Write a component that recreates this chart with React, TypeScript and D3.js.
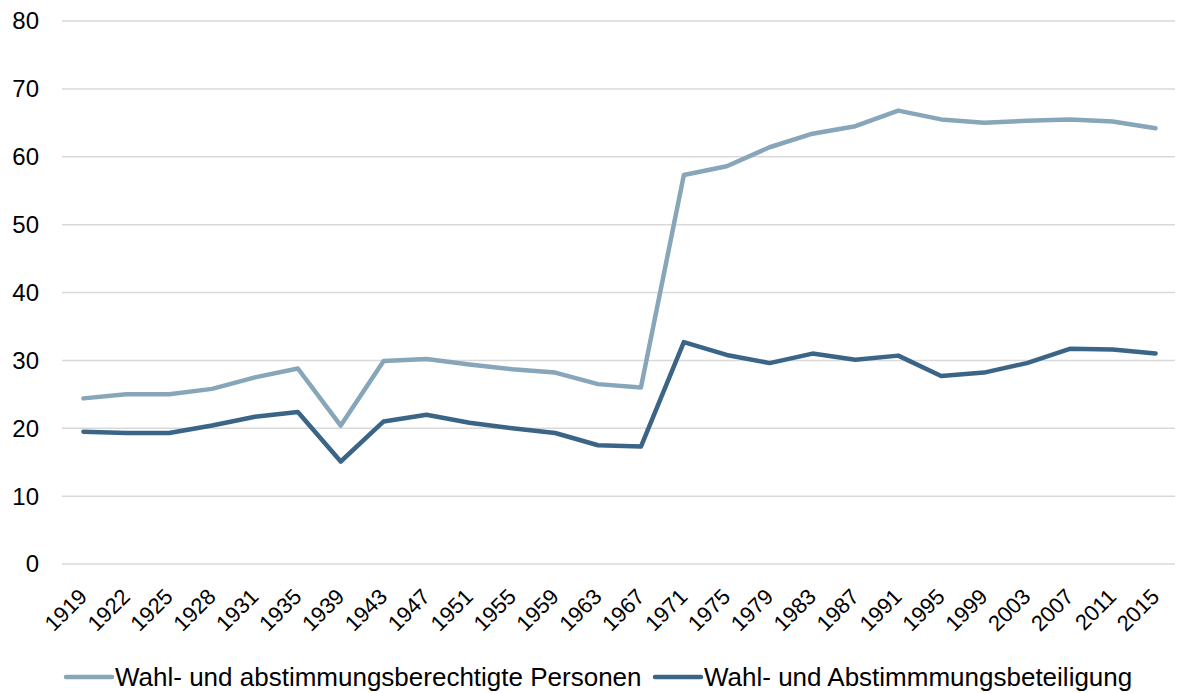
import { useEffect, useRef } from "react"
import * as d3 from "d3"

const years = [
  "1919", "1922", "1925", "1928", "1931", "1935", "1939", "1943", "1947", "1951", "1955", "1959", "1963",
  "1967", "1971", "1975", "1979", "1983", "1987", "1991", "1995", "1999", "2003", "2007", "2011", "2015",
]
const berechtigte = [
  24.4, 25.0, 25.0, 25.8, 27.5, 28.8, 20.4, 29.9, 30.2, 29.4, 28.7, 28.2, 26.5,
  26.0, 57.3, 58.6, 61.4, 63.4, 64.5, 66.8, 65.5, 65.0, 65.3, 65.5, 65.2, 64.2,
]
const beteiligung = [
  19.5, 19.3, 19.3, 20.4, 21.7, 22.4, 15.1, 21.0, 22.0, 20.8, 20.0, 19.3, 17.5,
  17.3, 32.7, 30.8, 29.6, 31.0, 30.1, 30.7, 27.7, 28.2, 29.6, 31.7, 31.6, 31.0,
]
const yTicks = [0, 10, 20, 30, 40, 50, 60, 70, 80]
const seriesNames = ["Wahl- und abstimmungsberechtigte Personen", "Wahl- und Abstimmmungsbeteiligung"]
const colors = ["#87a6ba", "#3a6587"]

const W = 1179
const H = 693

const App = () => {
  const svgRef = useRef<SVGSVGElement>(null)

  useEffect(() => {
    const svg = d3.select(svgRef.current)
    svg.selectAll("*").remove()

    const font = "'Liberation Sans', Arial, sans-serif"
    const left = 62
    const right = 1177
    const top = 21
    const bottom = 564

    const x = d3.scaleBand().domain(years).range([left, right])
    const y = d3.scaleLinear().domain([0, 80]).range([bottom, top])
    const cx = (d: string) => (x(d) ?? 0) + x.bandwidth() / 2

    // gridlines
    svg
      .append("g")
      .selectAll("line")
      .data(yTicks)
      .join("line")
      .attr("x1", left)
      .attr("x2", right - 2)
      .attr("y1", (d) => y(d))
      .attr("y2", (d) => y(d))
      .attr("stroke", "#d9d9d9")
      .attr("stroke-width", 1.5)

    // y labels
    svg
      .append("g")
      .selectAll("text")
      .data(yTicks)
      .join("text")
      .attr("x", 39)
      .attr("y", (d) => y(d))
      .attr("dy", "0.35em")
      .attr("text-anchor", "end")
      .style("font-family", font)
      .style("font-size", "24px")
      .attr("fill", "#000")
      .text((d) => d)

    // x labels, rotated
    svg
      .append("g")
      .selectAll("text")
      .data(years)
      .join("text")
      .attr("transform", (d) => `translate(${cx(d) + 5},${bottom + 34}) rotate(-45)`)
      .attr("text-anchor", "end")
      .style("font-family", font)
      .style("font-size", "22px")
      .attr("fill", "#000")
      .text((d) => d)

    const line = d3
      .line<number>()
      .x((_, i) => cx(years[i]))
      .y((d) => y(d))

    ;[berechtigte, beteiligung].forEach((s, i) => {
      svg
        .append("path")
        .datum(s)
        .attr("fill", "none")
        .attr("stroke", colors[i])
        .attr("stroke-width", 4.5)
        .attr("stroke-linejoin", "round")
        .attr("stroke-linecap", "round")
        .attr("d", line)
    })

    // legend
    const legendX = [66, 655]
    const legendY = 677
    seriesNames.forEach((name, i) => {
      const g = svg.append("g").attr("transform", `translate(${legendX[i]},${legendY})`)
      g.append("line")
        .attr("x1", 0)
        .attr("x2", 46)
        .attr("y1", 0)
        .attr("y2", 0)
        .attr("stroke", colors[i])
        .attr("stroke-width", 4.5)
        .attr("stroke-linecap", "round")
      g.append("text")
        .attr("x", 49)
        .attr("y", 0)
        .attr("dy", "0.35em")
        .style("font-family", font)
        .style("font-size", "26px")
        .attr("fill", "#000")
        .text(name)
    })
  }, [])

  return (
    <svg
      ref={svgRef}
      width={W}
      height={H}
      style={{ position: "absolute", left: 0, top: 0, background: "#fff" }}
    />
  )
}

export default App
